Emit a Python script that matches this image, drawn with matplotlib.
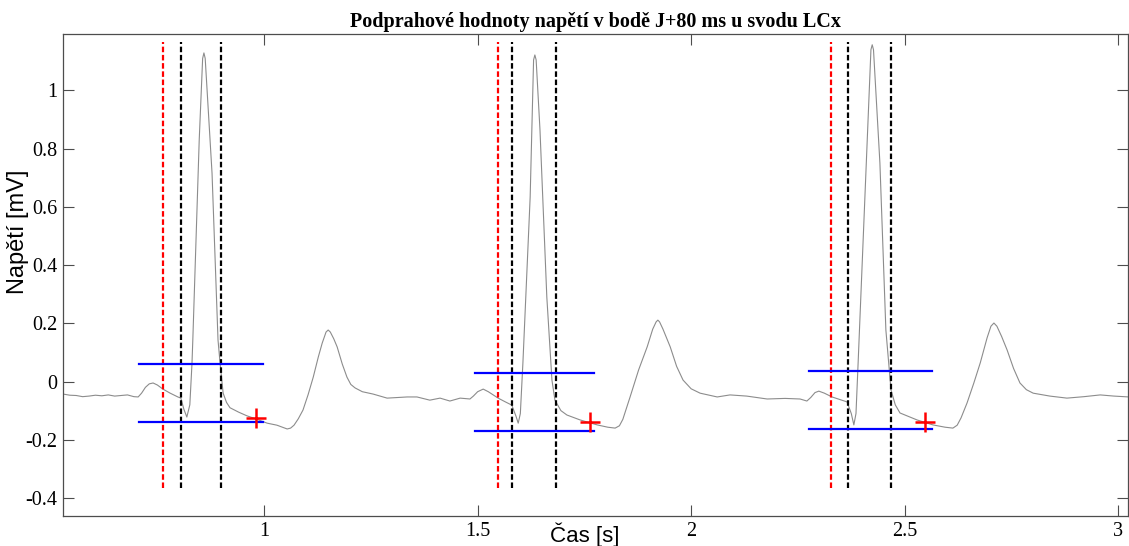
import numpy as np
import matplotlib
matplotlib.use('Agg')
import matplotlib.pyplot as plt

# ECG trace (lead LCx)
t = [0.529, 0.545, 0.560, 0.575, 0.590, 0.605, 0.620, 0.635, 0.650, 0.665, 0.680, 0.695, 0.705,
     0.713, 0.722, 0.731, 0.740, 0.750, 0.763, 0.780, 0.798, 0.805, 0.812, 0.819, 0.826, 0.831,
     0.833, 0.848, 0.856, 0.859, 0.862, 0.878, 0.892, 0.897, 0.904, 0.912, 0.920, 0.940, 0.960,
     0.980, 1.007, 1.030, 1.045, 1.054, 1.062, 1.070, 1.080, 1.091, 1.103, 1.115, 1.127, 1.136,
     1.145, 1.150, 1.155, 1.163, 1.171, 1.183, 1.194, 1.203, 1.213, 1.230, 1.255, 1.288, 1.310,
     1.335, 1.358, 1.388, 1.412, 1.435, 1.459, 1.482, 1.490, 1.500, 1.513, 1.525, 1.548, 1.565,
     1.580, 1.590, 1.595, 1.600, 1.606, 1.623, 1.631, 1.634, 1.637, 1.646, 1.662, 1.674, 1.681,
     1.695, 1.709, 1.740, 1.780, 1.805, 1.822, 1.832, 1.840, 1.857, 1.877, 1.897, 1.910, 1.918,
     1.922, 1.926, 1.934, 1.951, 1.966, 1.981, 2.000, 2.021, 2.061, 2.091, 2.130, 2.178, 2.220,
     2.255, 2.271, 2.280, 2.290, 2.299, 2.312, 2.330, 2.365, 2.375, 2.381, 2.386, 2.391, 2.407,
     2.421, 2.424, 2.427, 2.442, 2.456, 2.468, 2.478, 2.489, 2.529, 2.566, 2.595, 2.613, 2.623,
     2.632, 2.646, 2.662, 2.677, 2.693, 2.702, 2.709, 2.716, 2.727, 2.740, 2.755, 2.770, 2.785,
     2.801, 2.840, 2.880, 2.920, 2.958, 2.990, 3.025]
u = [-0.043, -0.047, -0.048, -0.052, -0.050, -0.047, -0.049, -0.046, -0.050, -0.048, -0.046, -0.052, -0.053,
     -0.040, -0.020, -0.008, -0.005, -0.012, -0.026, -0.040, -0.053, -0.057, -0.095, -0.122, -0.080, 0.060,
     0.143, 0.830, 1.110, 1.129, 1.110, 0.716, 0.143, 0.060, -0.040, -0.072, -0.090, -0.105, -0.118,
     -0.128, -0.143, -0.150, -0.158, -0.163, -0.160, -0.150, -0.128, -0.098, -0.045, 0.015, 0.085, 0.132,
     0.170, 0.177, 0.170, 0.147, 0.119, 0.060, 0.015, -0.010, -0.022, -0.035, -0.043, -0.057, -0.055,
     -0.053, -0.053, -0.064, -0.057, -0.067, -0.057, -0.060, -0.050, -0.035, -0.026, -0.035, -0.057, -0.070,
     -0.081, -0.120, -0.143, -0.110, 0.064, 0.634, 1.105, 1.122, 1.105, 0.864, 0.290, 0.005, -0.064,
     -0.100, -0.115, -0.132, -0.149, -0.157, -0.160, -0.152, -0.130, -0.053, 0.040, 0.119, 0.180, 0.205,
     0.211, 0.205, 0.180, 0.119, 0.052, 0.005, -0.025, -0.040, -0.053, -0.046, -0.050, -0.060, -0.058,
     -0.060, -0.067, -0.055, -0.038, -0.033, -0.040, -0.053, -0.070, -0.110, -0.149, -0.110, 0.064, 0.634,
     1.140, 1.157, 1.140, 0.751, 0.177, -0.029, -0.080, -0.108, -0.132, -0.149, -0.157, -0.160, -0.150,
     -0.125, -0.074, -0.005, 0.064, 0.150, 0.190, 0.201, 0.190, 0.155, 0.108, 0.045, -0.005, -0.028,
     -0.040, -0.050, -0.057, -0.052, -0.046, -0.050, -0.053]

# detected points per beat
onset_red = [0.763, 1.548, 2.328]
qrs_on = [0.805, 1.580, 2.368]
qrs_off = [0.899, 1.683, 2.468]
vline_y = [-0.366, 1.167]

thr_x0 = [0.707, 1.494, 2.276]
thr_x1 = [0.997, 1.773, 2.564]
thr_hi = [0.060, 0.029, 0.036]
thr_lo = [-0.139, -0.170, -0.163]

j80_t = [0.981, 1.763, 2.548]
j80_u = [-0.125, -0.139, -0.139]

xticks = [1, 1.5, 2, 2.5, 3]
yticks = [-0.4, -0.2, 0, 0.2, 0.4, 0.6, 0.8, 1]

fig = plt.figure(figsize=(11.29, 5.46), dpi=100)
ax = fig.add_axes([63/1129, 30/546, 1065/1129, 482/546])

ax.plot(t, u, color='#8c8c8c', lw=0.8, zorder=2)

for i in range(3):
    ax.plot([onset_red[i]] * 2, vline_y, color='red', lw=1.6, ls=(0, (2.5, 1.2)), zorder=3)
    ax.plot([qrs_on[i]] * 2, vline_y, color='black', lw=1.6, ls=(0, (2.5, 1.2)), zorder=3)
    ax.plot([qrs_off[i]] * 2, vline_y, color='black', lw=1.6, ls=(0, (2.5, 1.2)), zorder=3)
    ax.plot([thr_x0[i], thr_x1[i]], [thr_hi[i]] * 2, color='#0000ff', lw=1.6, zorder=4)
    ax.plot([thr_x0[i], thr_x1[i]], [thr_lo[i]] * 2, color='#0000ff', lw=1.6, zorder=4)
ax.plot(j80_t, j80_u, ls='none', marker='+', ms=15, mew=1.8, color='red', zorder=5)

ax.set_xlim(0.529, 3.023)
ax.set_ylim(-0.462, 1.194)
ax.set_xticks(xticks)
ax.set_yticks(yticks)
ax.set_xticklabels(['%g' % v for v in xticks])
ax.set_yticklabels(['%g' % v for v in yticks])

for s in ax.spines.values():
    s.set_color('#4d4d4d')
    s.set_linewidth(0.9)
ax.tick_params(direction='in', length=8, width=0.8, color='#4d4d4d',
               top=True, right=True, labelsize=14.5, pad=4)
for lab in ax.get_xticklabels() + ax.get_yticklabels():
    lab.set_family('Liberation Serif')

fig.text(596/1129, 1 - 22/546, 'Podprahové hodnoty napětí v bodě J+80 ms u svodu LCx',
         ha='center', va='center', family='Liberation Serif', weight='bold', fontsize=14.5)
fig.text(585/1129, 1 - 535/546, 'Čas [s]', ha='center', va='center',
         family='Liberation Sans', fontsize=16)
fig.text(18/1129, 1 - 232/546, 'Napětí [mV]', ha='center', va='center', rotation=90,
         family='Liberation Sans', fontsize=17)

fig.savefig('out.png', dpi=100)
